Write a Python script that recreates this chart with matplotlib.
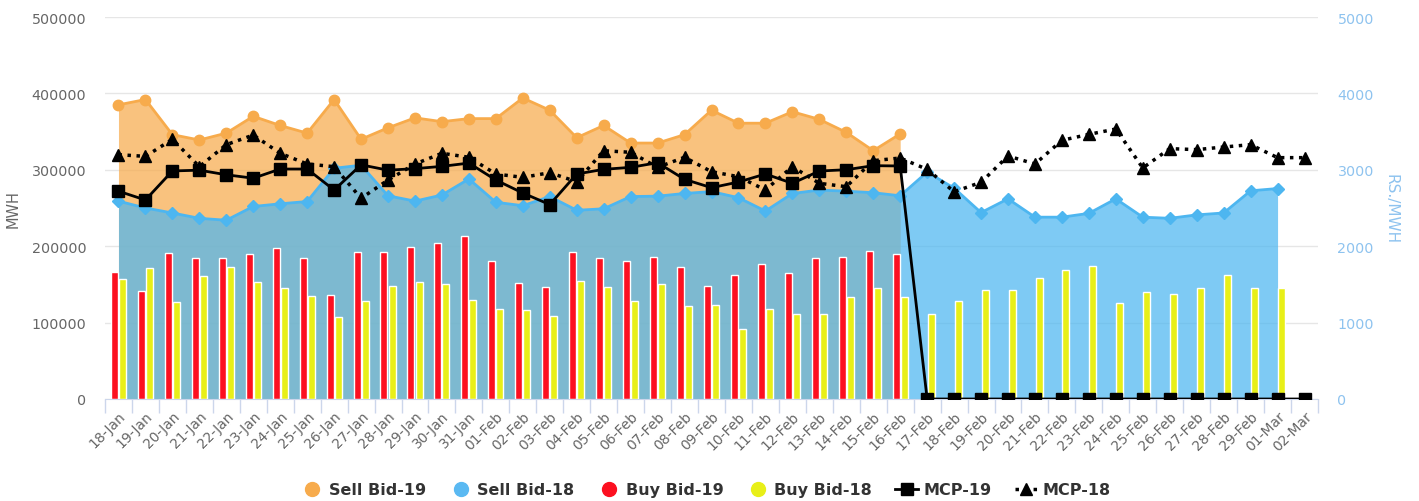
import numpy as np
import matplotlib
matplotlib.use("Agg")
import matplotlib.pyplot as plt
from matplotlib.lines import Line2D

plt.rcParams["font.family"] = ["DejaVu Sans"]

# ── data ──
dates = ["18-Jan", "19-Jan", "20-Jan", "21-Jan", "22-Jan", "23-Jan", "24-Jan", "25-Jan",
         "26-Jan", "27-Jan", "28-Jan", "29-Jan", "30-Jan", "31-Jan",
         "01-Feb", "02-Feb", "03-Feb", "04-Feb", "05-Feb", "06-Feb", "07-Feb", "08-Feb",
         "09-Feb", "10-Feb", "11-Feb", "12-Feb", "13-Feb", "14-Feb", "15-Feb", "16-Feb",
         "17-Feb", "18-Feb", "19-Feb", "20-Feb", "21-Feb", "22-Feb", "23-Feb", "24-Feb",
         "25-Feb", "26-Feb", "27-Feb", "28-Feb", "29-Feb", "01-Mar", "02-Mar"]

sell_bid_19 = [385000, 392000, 346000, 339000, 348000, 370000, 358000, 348000, 392000, 340000,
               355000, 368000, 363000, 367000,
               367000, 394000, 378000, 342000, 358000, 335000, 335000, 346000, 378000, 361000,
               361000, 376000, 366000, 349000, 325000, 347000]

sell_bid_18 = [259000, 250000, 243500, 236500, 234000, 252000, 255500, 258500, 302000, 306000,
               266000, 259000, 267000, 288000,
               257500, 253000, 265000, 247000, 249000, 265000, 265500, 269000, 271500, 263500,
               246000, 269000, 273500, 272000, 270000, 266000,
               297000, 276000, 244000, 262000, 238000, 238000, 243000, 262000, 238000, 236500,
               241000, 243500, 272500, 275500]

buy_bid_19 = [166600, 141400, 190700, 184100, 184100, 189400, 198000, 184100, 136500, 192400,
              192400, 199400, 204600, 212900,
              180600, 151800, 146600, 192400, 184100, 180600, 185900, 172400, 148300, 161900,
              177100, 165300, 184100, 185900, 194100, 189400]

buy_bid_18 = [157100, 171000, 126500, 160600, 172400, 153500, 144900, 134800, 107300, 127900,
              148300, 153500, 150100, 129600,
              117800, 116100, 109000, 154800, 146600, 127900, 150100, 121300, 123000, 92000,
              117800, 110900, 110900, 133100, 144900, 133100,
              110900, 127900, 143100, 143100, 158800, 168800, 174100, 126000, 139700, 137800,
              144900, 161900, 144900, 145700]

mcp_19 = [2720, 2605, 2985, 2995, 2935, 2890, 3010, 3010, 2735, 3065, 2995, 3015, 3045, 3088,
          2866, 2696, 2545, 2945, 3006, 3032, 3093, 2875, 2766, 2840, 2945, 2823, 2984, 3001,
          3054, 3050,
          0, 0, 0, 0, 0, 0, 0, 0, 0, 0, 0, 0, 0, 0, 0]

mcp_18 = [3198, 3176, 3399, 3041, 3329, 3455, 3216, 3076, 3041, 2627, 2866, 3076, 3216, 3164,
          2945, 2901, 2962, 2844, 3250, 3229, 3032, 3164, 2975, 2910, 2736, 3041, 2823, 2779,
          3120, 3154,
          3006, 2713, 2836, 3181, 3076, 3386, 3464, 3534, 3024, 3277, 3264, 3298, 3329,
          3159, 3159]

ORANGE = "#f7ab4c"
BLUE = "#4db6f0"
RED = "#fc1020"
YELLOW = "#e8ef18"
GREY = "#666666"
RIGHT_C = "#8ec3ef"

x = np.arange(len(dates))
x19 = x[:len(sell_bid_19)]
x18 = x[:len(sell_bid_18)]

fig = plt.figure(figsize=(14.19, 5.02), dpi=100)
ax = fig.add_axes([105 / 1419, 1 - 400 / 502, 1213 / 1419, 382 / 502])

# areas
ax.fill_between(x19, sell_bid_19, color=ORANGE, alpha=0.72, linewidth=0, zorder=2)
ax.plot(x19, sell_bid_19, color=ORANGE, lw=2, marker="o", ms=7.5, zorder=2.1)
ax.fill_between(x18, sell_bid_18, color=BLUE, alpha=0.72, linewidth=0, zorder=3)
ax.plot(x18, sell_bid_18, color=BLUE, lw=2, marker="D", ms=6, zorder=3.1)

# columns
bw = 0.26
ax.bar(x19 - 0.15, buy_bid_19, width=bw, color=RED, edgecolor="white", linewidth=1, zorder=4)
ax.bar(x18 + 0.15, buy_bid_18, width=bw, color=YELLOW, edgecolor="white", linewidth=1, zorder=4)

ax.set_xlim(-0.5, len(dates) - 0.5)
ax.set_ylim(0, 500000)
ax.set_yticks(np.arange(0, 500001, 100000))
ax.tick_params(axis="y", length=0, labelsize=10.3, labelcolor=GREY, pad=13.5)
ax.grid(axis="y", color="#e6e6e6", lw=1, zorder=0)
ax.set_axisbelow(True)
for s in ["top", "right", "left"]:
    ax.spines[s].set_visible(False)
ax.spines["bottom"].set_color("#ccd6eb")
ax.spines["bottom"].set_zorder(6)

ax.set_xticks(x)
ax.set_xticklabels(dates, rotation=45, ha="right", rotation_mode="anchor",
                   fontsize=10, color=GREY)
ax.tick_params(axis="x", which="major", length=0, pad=7)
ax.set_xticks(np.arange(-0.5, len(dates), 1), minor=True)
ax.tick_params(axis="x", which="minor", length=10, color="#ccd6eb", width=1)
ax.set_ylabel("MWH", fontsize=10.5, color=GREY, labelpad=8)

# price axis
ax2 = ax.twinx()
ax2.set_ylim(0, 5000)
ax2.set_yticks(np.arange(0, 5001, 1000))
ax2.tick_params(axis="y", length=0, labelsize=10.3, labelcolor=RIGHT_C, pad=14)
for s in ax2.spines.values():
    s.set_visible(False)
ax2.set_ylabel("RS./MWH", fontsize=11, color=RIGHT_C, rotation=270, labelpad=18)

ax2.plot(x, mcp_19, color="black", lw=2, marker="s", ms=8.5, zorder=5)
ax2.plot(x, mcp_18, color="black", lw=2.5, ls=(0, (1, 1.6)), marker="^", ms=8.5, zorder=6)

handles = [
    Line2D([], [], ls="none", marker="o", ms=10, color=ORANGE),
    Line2D([], [], ls="none", marker="o", ms=10, color="#5ab9f2"),
    Line2D([], [], ls="none", marker="o", ms=10, color=RED),
    Line2D([], [], ls="none", marker="o", ms=10, color=YELLOW),
    Line2D([], [], color="black", lw=2, marker="s", ms=8),
    Line2D([], [], color="black", lw=2.5, ls=(0, (1, 1.6)), marker="^", ms=8),
]
labels = ["Sell Bid-19", "Sell Bid-18", "Buy Bid-19", "Buy Bid-18", "MCP-19", "MCP-18"]
leg = fig.legend(handles, labels, loc="center", bbox_to_anchor=(0.4975, 1 - 491 / 502), ncol=6,
                 frameon=False, handlelength=1.4, handletextpad=0.35, columnspacing=1.45,
                 prop={"size": 11.5, "weight": "bold"})
for t in leg.get_texts():
    t.set_color("#333333")

fig.savefig("out.png", dpi=100)
